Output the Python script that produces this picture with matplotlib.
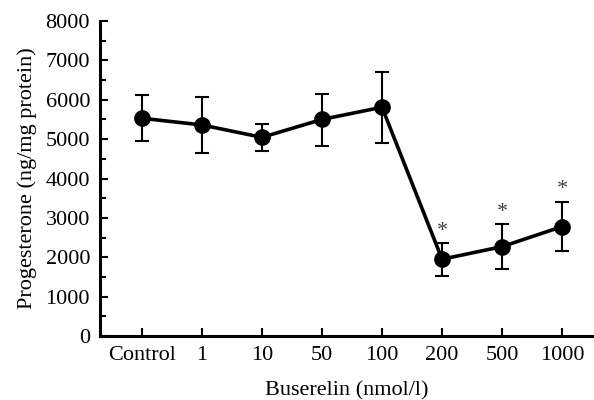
import numpy as np
import matplotlib.pyplot as plt
from matplotlib.ticker import MultipleLocator

plt.rcParams['font.family'] = ['Liberation Serif', 'DejaVu Serif']

labels = ['Control', '1', '10', '50', '100', '200', '500', '1000']
means = [5530, 5360, 5045, 5500, 5810, 1950, 2270, 2780]
upper = [6120, 6080, 5380, 6150, 6710, 2360, 2840, 3410]
lower = [4950, 4640, 4700, 4830, 4890, 1520, 1690, 2170]
signif = [False, False, False, False, False, True, True, True]

x = np.arange(len(labels))
means = np.array(means)
yerr = [means - np.array(lower), np.array(upper) - means]

fig = plt.figure(figsize=(5.94, 4.0), dpi=100)
ax = fig.add_axes([0.168, 0.16, 0.832, 0.7875])

ax.errorbar(x, means, yerr=yerr, color='black', lw=2.6, marker='o', ms=11,
            ecolor='black', elinewidth=1.5, capsize=5, capthick=1.5)

for xi, up, s in zip(x, upper, signif):
    if s:
        ax.text(xi, up + 60, '*', ha='center', va='bottom', fontsize=16, color='#444444')

ax.set_xlim(-0.7, 7.53)
ax.set_ylim(0, 8000)
ax.set_xticks(x)
ax.set_xticklabels(labels)
ax.yaxis.set_major_locator(MultipleLocator(1000))
ax.yaxis.set_minor_locator(MultipleLocator(500))
ax.tick_params(axis='both', direction='in', width=1.5, length=6, labelsize=16, pad=7)
ax.tick_params(axis='y', which='minor', direction='in', width=1.5, length=4)

for side in ['top', 'right']:
    ax.spines[side].set_visible(False)
for side in ['left', 'bottom']:
    ax.spines[side].set_linewidth(2.2)

ax.set_ylabel('Progesterone (ng/mg protein)', fontsize=16, labelpad=6)
ax.set_xlabel('Buserelin (nmol/l)', fontsize=16, labelpad=12)

fig.savefig('out.png', dpi=100)
